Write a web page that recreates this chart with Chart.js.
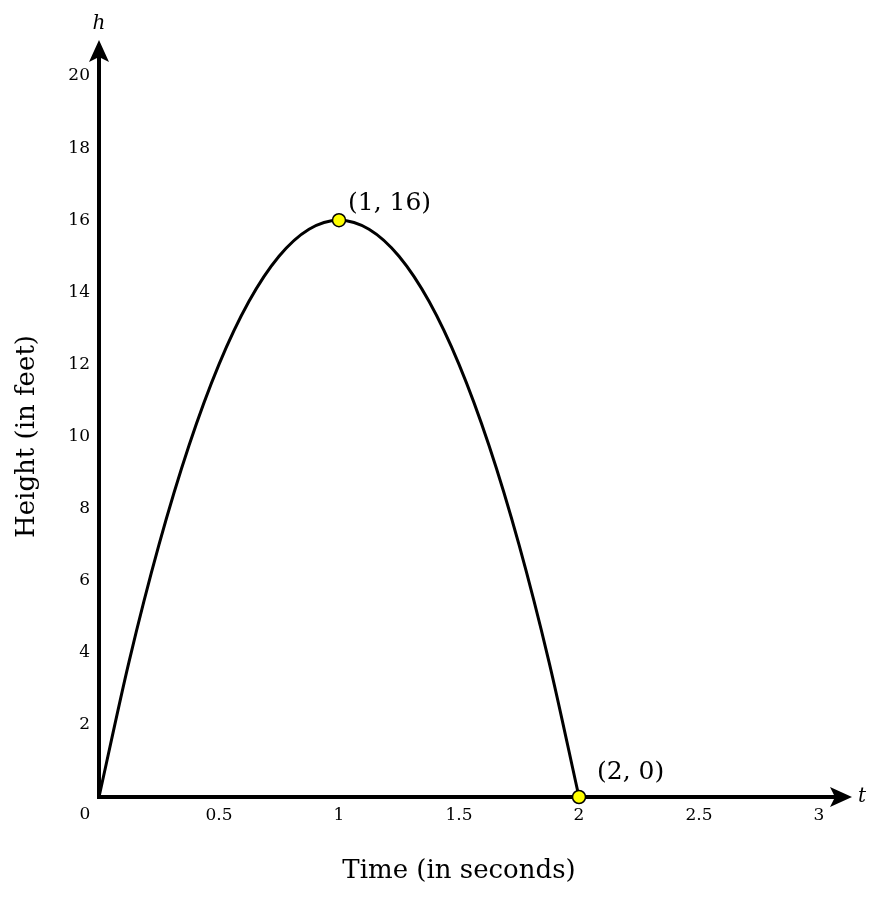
<!DOCTYPE html>
<html>
<head>
<meta charset="utf-8">
<script src="https://cdn.jsdelivr.net/npm/chart.js@4"></script>
<style>
  html, body { margin: 0; padding: 0; background: #fff; }
  #wrap { width: 894px; height: 902px; }
</style>
</head>
<body>
<div id="wrap"><canvas id="chart" width="894" height="902"></canvas></div>
<script>
// Datos
const timeValues   = [0, 0.125, 0.25, 0.375, 0.5, 0.625, 0.75, 0.875, 1, 1.125, 1.25, 1.375, 1.5, 1.625, 1.75, 1.875, 2];
const heightValues = [0, 3.75, 7, 9.75, 12, 13.75, 15, 15.75, 16, 15.75, 15, 13.75, 12, 9.75, 7, 3.75, 0];

// Puntos marcados
const markT = [1, 2];
const markH = [16, 0];
const markLabels = ['(1, 16)', '(2, 0)'];

// Ticks
const xTicks = [0, 0.5, 1, 1.5, 2, 2.5, 3];
const yTicks = [0, 2, 4, 6, 8, 10, 12, 14, 16, 18, 20];

const FONT = "'DejaVu Serif', 'Liberation Serif', serif";
// desplazamiento de cada etiqueta respecto a su punto
const labelShift = [[9, -17], [18, -25]];

// Ejes con flechas + etiquetas de puntos
const axesPlugin = {
  id: 'axesArrows',
  beforeDatasetsDraw(chart) {
    const { ctx, scales: { x, y } } = chart;
    const x0 = x.getPixelForValue(0), y0 = y.getPixelForValue(0);
    const yTop = y.getPixelForValue(20) - 36;
    const xEnd = x.getPixelForValue(3) + 33;
    ctx.save();
    ctx.strokeStyle = '#000';
    ctx.fillStyle = '#000';
    ctx.lineWidth = 4;
    ctx.beginPath();
    ctx.moveTo(x0, y0 + 2); ctx.lineTo(x0, yTop + 12);
    ctx.moveTo(x0 - 2, y0); ctx.lineTo(xEnd - 12, y0);
    ctx.stroke();
    // flecha vertical
    ctx.beginPath();
    ctx.moveTo(x0, yTop);
    ctx.lineTo(x0 + 10, yTop + 22);
    ctx.lineTo(x0, yTop + 17);
    ctx.lineTo(x0 - 10, yTop + 22);
    ctx.closePath(); ctx.fill();
    // flecha horizontal
    ctx.beginPath();
    ctx.moveTo(xEnd, y0);
    ctx.lineTo(xEnd - 22, y0 - 10);
    ctx.lineTo(xEnd - 17, y0);
    ctx.lineTo(xEnd - 22, y0 + 10);
    ctx.closePath(); ctx.fill();
    // nombres de ejes
    ctx.font = 'italic 20px ' + FONT;
    ctx.textAlign = 'center'; ctx.textBaseline = 'middle';
    ctx.fillText('h', x0, yTop - 16);
    ctx.textAlign = 'left';
    ctx.fillText('t', xEnd + 6, y0);
    // origen
    ctx.font = '17px ' + FONT;
    ctx.textAlign = 'center';
    ctx.fillText('0', x0 - 14, y0 + 18);
    ctx.restore();
  },
  afterDatasetsDraw(chart) {
    const { ctx, scales: { x, y } } = chart;
    ctx.save();
    ctx.fillStyle = '#000';
    ctx.font = '25px ' + FONT;
    ctx.textAlign = 'left'; ctx.textBaseline = 'middle';
    markLabels.forEach((txt, i) => {
      ctx.fillText(txt, x.getPixelForValue(markT[i]) + labelShift[i][0], y.getPixelForValue(markH[i]) + labelShift[i][1]);
    });
    ctx.restore();
  }
};

new Chart(document.getElementById('chart'), {
  type: 'scatter',
  data: {
    datasets: [
      {
        data: markT.map((t, i) => ({ x: t, y: markH[i] })),
        showLine: false,
        pointRadius: 6.5,
        pointBackgroundColor: '#ffff00',
        pointBorderColor: '#000',
        pointBorderWidth: 1.5,
        clip: false,
        order: 0
      },
      {
        data: timeValues.map((t, i) => ({ x: t, y: heightValues[i] })),
        showLine: true,
        borderColor: '#000',
        borderWidth: 3,
        cubicInterpolationMode: 'monotone',
        pointRadius: 0,
        clip: false,
        order: 1
      }
    ]
  },
  options: {
    responsive: false,
    animation: false,
    layout: { padding: { top: 76, right: 75, bottom: 0, left: 0 } },
    plugins: { legend: { display: false }, tooltip: { enabled: false } },
    scales: {
      x: {
        type: 'linear', min: 0, max: 3,
        afterBuildTicks: s => { s.ticks = xTicks.map(v => ({ value: v })); },
        afterFit: s => { s.height = 105; },
        grid: { display: false, drawTicks: false },
        border: { display: false },
        ticks: {
          padding: 8,
          color: '#000',
          font: { family: FONT, size: 17 },
          callback: v => v === 0 ? '' : String(v)
        },
        title: {
          display: true, text: 'Time (in seconds)', color: '#000',
          font: { family: FONT, size: 26 }, padding: 15
        }
      },
      y: {
        type: 'linear', min: 0, max: 20,
        afterBuildTicks: s => { s.ticks = yTicks.map(v => ({ value: v })); },
        afterFit: s => { s.width = 99; },
        grid: { display: false, drawTicks: false },
        border: { display: false },
        ticks: {
          padding: 9,
          color: '#000',
          font: { family: FONT, size: 17 },
          callback: v => v === 0 ? '' : String(v)
        },
        title: {
          display: true, text: 'Height (in feet)', color: '#000',
          font: { family: FONT, size: 26 }, padding: 12
        }
      }
    }
  },
  plugins: [axesPlugin]
});
</script>
</body>
</html>
